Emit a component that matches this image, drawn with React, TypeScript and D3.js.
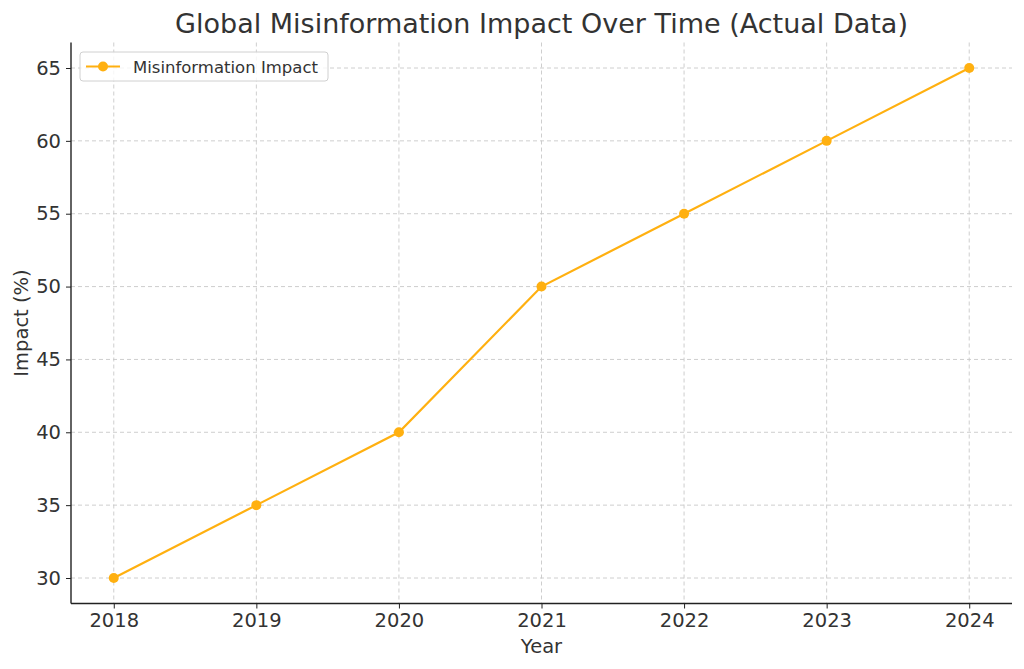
import React, { useEffect, useRef } from 'react';
import * as d3 from 'd3';

const years = [2018, 2019, 2020, 2021, 2022, 2023, 2024];
const impact = [30, 35, 40, 50, 55, 60, 65];
const yTicks = [30, 35, 40, 45, 50, 55, 60, 65];
const seriesName = 'Misinformation Impact';

const App = () => {
  const svgRef = useRef<SVGSVGElement>(null);

  useEffect(() => {
    const width = 1024;
    const height = 669;
    const margin = { top: 42.5, right: 12, bottom: 65.5, left: 71 };
    const innerWidth = width - margin.left - margin.right;
    const innerHeight = height - margin.top - margin.bottom;
    const font = 'DejaVu Sans, sans-serif';
    const textColor = '#333333';
    const lineColor = '#FFB010';

    const svg = d3.select(svgRef.current);
    svg.selectAll('*').remove();
    svg.attr('width', width).attr('height', height);

    svg.append('rect').attr('width', width).attr('height', height).attr('fill', 'white');

    const g = svg.append('g').attr('transform', `translate(${margin.left},${margin.top})`);

    const xScale = d3.scaleLinear().domain([2017.7, 2024.3]).range([0, innerWidth]);
    const yScale = d3.scaleLinear().domain([28.25, 66.75]).range([innerHeight, 0]);

    // Grid lines
    g.append('g')
      .selectAll('line')
      .data(years)
      .enter()
      .append('line')
      .attr('x1', d => xScale(d))
      .attr('x2', d => xScale(d))
      .attr('y1', 0)
      .attr('y2', innerHeight)
      .attr('stroke', '#c8c8c8')
      .attr('stroke-width', 0.9)
      .attr('stroke-dasharray', '4,3');

    g.append('g')
      .selectAll('line')
      .data(yTicks)
      .enter()
      .append('line')
      .attr('x1', 0)
      .attr('x2', innerWidth)
      .attr('y1', d => yScale(d))
      .attr('y2', d => yScale(d))
      .attr('stroke', '#c8c8c8')
      .attr('stroke-width', 0.9)
      .attr('stroke-dasharray', '4,3');

    // Axes
    const xAxis = g.append('g')
      .attr('transform', `translate(0, ${innerHeight})`)
      .call(d3.axisBottom(xScale).tickValues(years).tickFormat(d3.format('d')).tickSize(5).tickPadding(5));
    const yAxis = g.append('g')
      .call(d3.axisLeft(yScale).tickValues(yTicks).tickSize(5).tickPadding(5));

    [xAxis, yAxis].forEach(ax => {
      ax.select('.domain').attr('stroke', '#222').attr('stroke-width', 1.4);
      ax.selectAll('.tick line').attr('stroke', '#222');
      ax.selectAll('.tick text')
        .attr('fill', textColor)
        .style('font-family', font)
        .style('font-size', '19.5px');
    });
    xAxis.select('.domain').attr('d', `M0,0H${innerWidth}`);
    yAxis.select('.domain').attr('d', `M0,0V${innerHeight}`);

    // Line
    const points = years.map((y, i) => ({ x: y, y: impact[i] }));
    const line = d3.line<{ x: number; y: number }>()
      .x(d => xScale(d.x))
      .y(d => yScale(d.y));

    g.append('path')
      .datum(points)
      .attr('fill', 'none')
      .attr('stroke', lineColor)
      .attr('stroke-width', 2.2)
      .attr('d', line);

    g.selectAll('circle.pt')
      .data(points)
      .enter()
      .append('circle')
      .attr('class', 'pt')
      .attr('cx', d => xScale(d.x))
      .attr('cy', d => yScale(d.y))
      .attr('r', 5)
      .attr('fill', lineColor);

    // Title and labels
    svg.append('text')
      .attr('x', margin.left + innerWidth / 2)
      .attr('y', 33)
      .attr('text-anchor', 'middle')
      .attr('fill', textColor)
      .style('font-family', font)
      .style('font-size', '27px')
      .text('Global Misinformation Impact Over Time (Actual Data)');

    svg.append('text')
      .attr('x', margin.left + innerWidth / 2)
      .attr('y', 653)
      .attr('text-anchor', 'middle')
      .attr('fill', textColor)
      .style('font-family', font)
      .style('font-size', '19.5px')
      .text('Year');

    svg.append('text')
      .attr('transform', `translate(28, ${margin.top + innerHeight / 2}) rotate(-90)`)
      .attr('text-anchor', 'middle')
      .attr('fill', textColor)
      .style('font-family', font)
      .style('font-size', '19.5px')
      .text('Impact (%)');

    // Legend
    const legend = svg.append('g').attr('transform', 'translate(80, 52)');
    legend.append('rect')
      .attr('width', 248)
      .attr('height', 29)
      .attr('rx', 3)
      .attr('fill', 'white')
      .attr('fill-opacity', 0.8)
      .attr('stroke', '#d0d0d0');
    legend.append('line')
      .attr('x1', 6)
      .attr('x2', 40)
      .attr('y1', 14.5)
      .attr('y2', 14.5)
      .attr('stroke', lineColor)
      .attr('stroke-width', 2.2);
    legend.append('circle')
      .attr('cx', 23)
      .attr('cy', 14.5)
      .attr('r', 5)
      .attr('fill', lineColor);
    legend.append('text')
      .attr('x', 53)
      .attr('y', 20.5)
      .attr('fill', textColor)
      .style('font-family', font)
      .style('font-size', '16.5px')
      .text(seriesName);
  }, []);

  return (
    <div style={{ position: 'absolute', left: 0, top: 0 }}>
      <svg ref={svgRef}></svg>
    </div>
  );
};

export default App;
